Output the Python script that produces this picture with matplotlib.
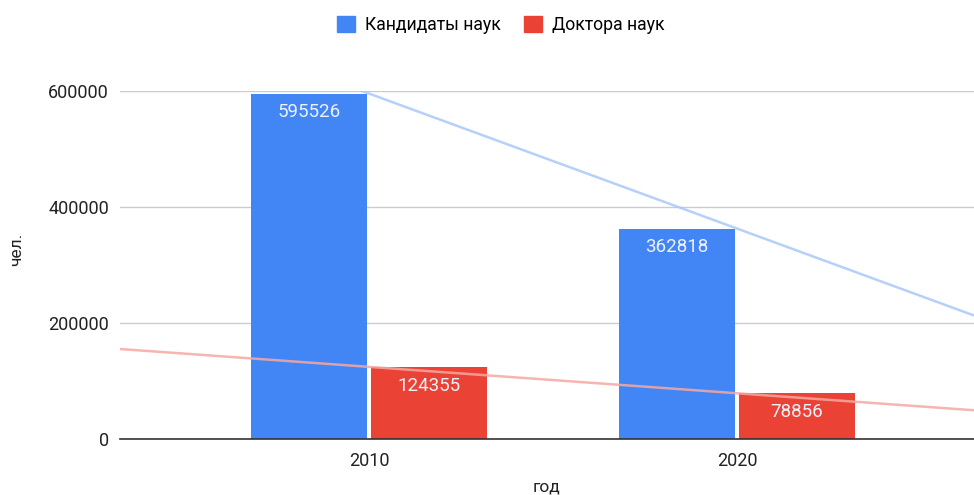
import numpy as np
import matplotlib.pyplot as plt
from matplotlib.patches import Patch

plt.rcParams['font.family'] = ['Roboto', 'DejaVu Sans']

years = ["2010", "2020"]
candidates = [595526, 362818]
doctors = [124355, 78856]
series_names = ["Кандидаты наук", "Доктора наук"]

blue = "#4285f4"
red = "#ea4335"

fig = plt.figure(figsize=(9.74, 4.95), dpi=100)
ax = fig.add_axes([120 / 974, 56 / 495, 854 / 974, 348 / 495])

x = np.arange(len(years))
w = 0.315
off = 0.163
b1 = ax.bar(x - off, candidates, w, color=blue, zorder=2)
b2 = ax.bar(x + off, doctors, w, color=red, zorder=2)

for bars in (b1, b2):
    for r in bars:
        ax.annotate(f"{int(r.get_height())}", (r.get_x() + r.get_width() / 2, r.get_height()),
                    xytext=(0, -13.5), textcoords="offset points", ha="center", va="center",
                    color="#eef2fb", fontsize=13.5, zorder=4)

# linear trendlines across the whole plot area
xl = (-0.677, 1.644)
xs = np.array(xl)
for vals, col in ((candidates, "#aac8fa"), (doctors, "#f5a8a1")):
    k, c = np.polyfit(x, vals, 1)
    ax.plot(xs, k * xs + c, color=col, lw=1.8, alpha=0.85, zorder=3, solid_capstyle="butt")

ax.set_xlim(*xl)
ax.set_ylim(0, 600000)
ax.set_yticks([0, 200000, 400000, 600000])
ax.set_yticklabels(["0", "200000", "400000", "600000"])
ax.set_xticks(x)
ax.set_xticklabels(years)
ax.grid(axis="y", color="#cccccc", lw=1, zorder=0)
ax.set_axisbelow(True)
for s in ("top", "right", "left"):
    ax.spines[s].set_visible(False)
ax.spines["bottom"].set_color("#333333")
ax.spines["bottom"].set_linewidth(1.2)
ax.spines["bottom"].set_zorder(5)
ax.tick_params(axis="both", length=0, labelsize=13, colors="#222222")
ax.tick_params(axis="y", pad=8)
ax.tick_params(axis="x", pad=9)
ax.set_xlabel("год", fontsize=12.5, color="#222222")
ax.xaxis.set_label_coords(0.5, -40 / 348)
ax.set_ylabel("чел.", fontsize=12.5, color="#222222")
ax.yaxis.set_label_coords(-96 / 854, 0.545)

handles = [Patch(color=blue), Patch(color=red)]
fig.legend(handles, series_names, loc="center", bbox_to_anchor=(501 / 974, 1 - 25 / 495),
           ncol=2, frameon=False, fontsize=12.7, handlelength=1.0, handleheight=1.0,
           handletextpad=0.6, columnspacing=1.3)

fig.savefig("out.png", dpi=100)
